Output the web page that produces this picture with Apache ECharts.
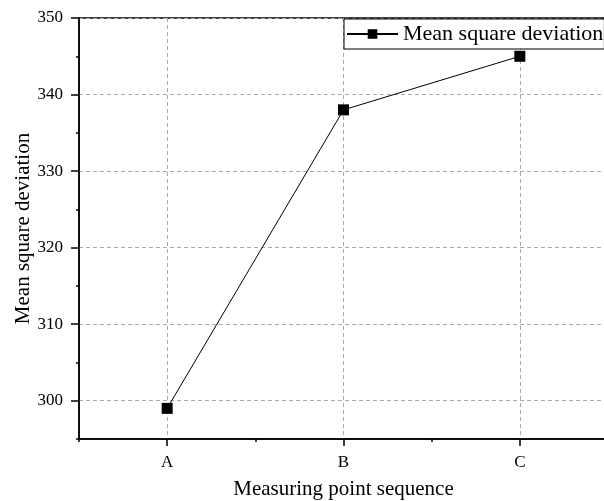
<!DOCTYPE html>
<html>
<head>
<meta charset="utf-8">
<script src="https://cdn.jsdelivr.net/npm/echarts@6/dist/echarts.min.js"></script>
<style>
  html, body { margin: 0; padding: 0; background: #fff; }
  #chart { width: 604px; height: 501px; }
</style>
</head>
<body>
<div id="chart"></div>
<script>
// Measuring points and their mean square deviation
const categories = ['A', 'B', 'C'];
const deviation = [299, 338, 345];

// Axis tick positions
const yMajorTicks = [300, 310, 320, 330, 340, 350];
const yMinorTicks = [295, 305, 315, 325, 335, 345];
const xMajorTicks = [1, 2, 3];
const xMinorTicks = [0.5, 1.5, 2.5, 3.5];

const FONT = '"Liberation Serif", "Times New Roman", serif';
// The plot frame runs a little past the right edge of the canvas
const GRID = { left: 79, top: 18, width: 529, height: 421 };

const seriesData = categories.map((c, i) => [i + 1, deviation[i]]);

const chart = echarts.init(document.getElementById('chart'), null, { renderer: 'canvas' });

chart.setOption({
  animation: false,
  backgroundColor: '#fff',
  grid: Object.assign({
    show: true, borderColor: '#000', borderWidth: 1.5, backgroundColor: 'transparent',
    containLabel: false, outerBoundsMode: 'none'
  }, GRID),
  legend: {
    left: 344,
    top: 19,
    padding: [4, 1, 4, 2],
    borderColor: '#000',
    borderWidth: 1,
    backgroundColor: '#fff',
    itemWidth: 51,
    itemHeight: 12,
    textStyle: { fontFamily: FONT, fontSize: 22, color: '#000' },
    data: ['Mean square deviation']
  },
  xAxis: [
    {
      type: 'value',
      min: 0.5,
      max: 3.5,
      position: 'bottom',
      name: 'Measuring point sequence',
      nameLocation: 'middle',
      nameMoveOverlap: false,
      nameGap: 40,
      nameTextStyle: { fontFamily: FONT, fontSize: 21, color: '#000' },
      axisLine: { show: true, lineStyle: { color: '#000', width: 1.5 } },
      axisTick: { show: true, inside: false, length: 7, customValues: xMajorTicks, lineStyle: { color: '#000', width: 1.5 } },
      axisLabel: {
        show: true, customValues: xMajorTicks, margin: 15,
        fontFamily: FONT, fontSize: 17, color: '#000',
        formatter: v => categories[Math.round(v) - 1] || ''
      },
      splitLine: { show: true, lineStyle: { color: '#aaa', type: [4, 3], width: 1 } }
    },
    {
      type: 'value',
      min: 0.5,
      max: 3.5,
      position: 'bottom',
      axisLine: { show: false },
      axisTick: { show: true, inside: false, length: 3, customValues: xMinorTicks, lineStyle: { color: '#000', width: 1.5 } },
      axisLabel: { show: false },
      splitLine: { show: false }
    }
  ],
  yAxis: [
    {
      type: 'value',
      min: 295,
      max: 350,
      position: 'left',
      name: 'Mean square deviation',
      nameLocation: 'middle',
      nameMoveOverlap: false,
      nameGap: 45,
      nameTextStyle: { fontFamily: FONT, fontSize: 21, color: '#000' },
      axisLine: { show: true, lineStyle: { color: '#000', width: 1.5 } },
      axisTick: { show: true, inside: false, length: 8, customValues: yMajorTicks, lineStyle: { color: '#000', width: 1.5 } },
      axisLabel: { show: true, customValues: yMajorTicks, margin: 16, fontFamily: FONT, fontSize: 17, color: '#000' },
      splitLine: { show: true, lineStyle: { color: '#aaa', type: [4, 3], width: 1 } }
    },
    {
      type: 'value',
      min: 295,
      max: 350,
      position: 'left',
      axisLine: { show: false },
      axisTick: { show: true, inside: false, length: 3, customValues: yMinorTicks, lineStyle: { color: '#000', width: 1.5 } },
      axisLabel: { show: false },
      splitLine: { show: false }
    }
  ],
  series: [
    {
      name: 'Mean square deviation',
      type: 'line',
      xAxisIndex: 0,
      yAxisIndex: 0,
      data: seriesData,
      symbol: 'rect',
      symbolSize: 11,
      itemStyle: { color: '#000' },
      lineStyle: { color: '#000', width: 1 },
      z: 5
    }
  ]
});
</script>
</body>
</html>
